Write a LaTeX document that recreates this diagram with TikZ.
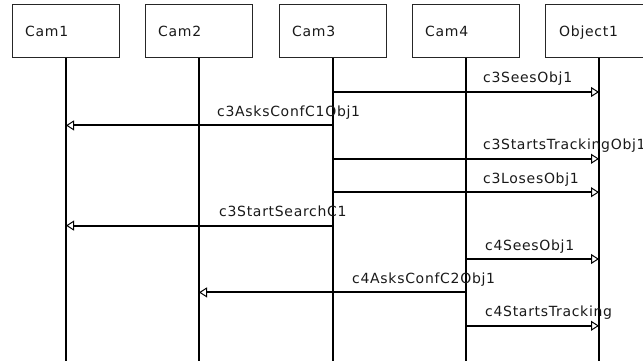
\documentclass[tikz,border=0pt]{standalone}
\usepackage{fontspec}
\setmainfont{DejaVu Sans}[LetterSpace=5]
\usetikzlibrary{arrows.meta}
\tikzset{
  actor/.style={draw=black!85, line width=1pt, minimum width=107pt, minimum height=53pt, inner sep=0pt, anchor=north west},
  lifeline/.style={line width=2pt, black},
  msg/.style={line width=2pt, black, -{Triangle[open, length=8pt, width=10pt, line width=1pt]}, shorten >=0pt},
  msglabel/.style={anchor=base west, inner sep=0pt, font=\fontsize{14}{16}\selectfont, text=black!90},
  actorlabel/.style={anchor=base west, inner sep=0pt, font=\fontsize{14}{16}\selectfont, text=black!90}
}
\begin{document}
\begin{tikzpicture}[x=1pt, y=-1pt]
\useasboundingbox (0,0) rectangle (643,361);
\clip (0,0) rectangle (643,361);
% actor boxes
\node[actor] (b1) at (12,4) {};
\node[actor] (b2) at (145,4) {};
\node[actor] (b3) at (279,4) {};
\node[actor] (b4) at (412,4) {};
\node[actor] (b5) at (545,4) {};
\node[actorlabel] (t1) at (25,37) {Cam1};
\node[actorlabel] (t2) at (158,37) {Cam2};
\node[actorlabel] (t3) at (292,37) {Cam3};
\node[actorlabel] (t4) at (425,37) {Cam4};
\node[actorlabel] (t5) at (559,37) {Object1};
% lifeline ends
\coordinate (e1) at (66,362);
\coordinate (e2) at (199,362);
\coordinate (e3) at (333,362);
\coordinate (e4) at (466,362);
\coordinate (e5) at (599,362);
\draw[lifeline] (b1.south -| e1) -- (e1);
\draw[lifeline] (b2.south -| e2) -- (e2);
\draw[lifeline] (b3.south -| e3) -- (e3);
\draw[lifeline] (b4.south -| e4) -- (e4);
\draw[lifeline] (b5.south -| e5) -- (e5);
% message end points
\coordinate (m1a) at (333,92);   \coordinate (m1b) at (599,92);
\coordinate (m2a) at (333,125.4);\coordinate (m2b) at (66,125.4);
\coordinate (m3a) at (333,158.8);\coordinate (m3b) at (599,158.8);
\coordinate (m4a) at (333,192.2);\coordinate (m4b) at (599,192.2);
\coordinate (m5a) at (333,225.6);\coordinate (m5b) at (66,225.6);
\coordinate (m6a) at (466,259);  \coordinate (m6b) at (599,259);
\coordinate (m7a) at (466,292.4);\coordinate (m7b) at (199,292.4);
\coordinate (m8a) at (466,325.8);\coordinate (m8b) at (599,325.8);
% messages
\draw[msg] (m1a) -- (m1b);
\draw[msg] (m2a) -- (m2b);
\draw[msg] (m3a) -- (m3b);
\draw[msg] (m4a) -- (m4b);
\draw[msg] (m5a) -- (m5b);
\draw[msg] (m6a) -- (m6b);
\draw[msg] (m7a) -- (m7b);
\draw[msg] (m8a) -- (m8b);
% labels
\node[msglabel] (l1) at (483,83) {c3SeesObj1};
\node[msglabel] (l2) at (217,116.4) {c3AsksConfC1Obj1};
\node[msglabel] (l3) at (483,149.8) {c3StartsTrackingObj1};
\node[msglabel] (l4) at (483,183.2) {c3LosesObj1};
\node[msglabel] (l5) at (219,216.6) {c3StartSearchC1};
\node[msglabel] (l6) at (485,250) {c4SeesObj1};
\node[msglabel] (l7) at (352,283.4) {c4AsksConfC2Obj1};
\node[msglabel] (l8) at (485,316.8) {c4StartsTracking};
\end{tikzpicture}
\end{document}
